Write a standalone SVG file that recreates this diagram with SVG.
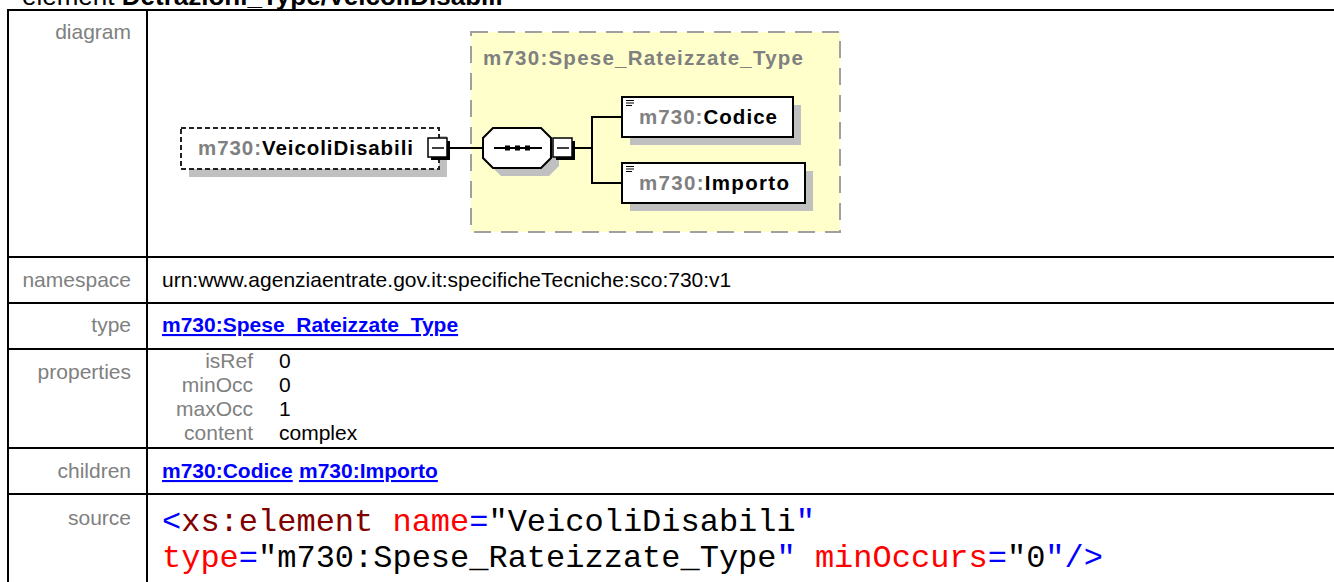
<svg xmlns="http://www.w3.org/2000/svg" width="1334" height="582" viewBox="0 0 1334 582">
<style>
.lbl{font-family:"Liberation Sans",Arial,sans-serif;font-size:21px;fill:#808080;text-anchor:end}
.val{font-family:"Liberation Sans",Arial,sans-serif;font-size:21px;fill:#000}
.lnk{font-family:"Liberation Sans",Arial,sans-serif;font-size:21px;font-weight:bold;fill:#0000FF;text-decoration:underline}
.grid{stroke:#000;stroke-width:2;fill:none}
.nm{font-family:"Liberation Sans",Arial,sans-serif;font-size:20.5px;font-weight:bold;fill:#000}
.pfx{fill:#808080}
.box{fill:#fff;stroke:#000;stroke-width:2}
.shadow{fill:#c0c0c0}
.conn{stroke:#000;stroke-width:2;fill:none}
.src{font-family:"Liberation Mono","Courier New",monospace;font-size:32px}
.tag{fill:#0000FF}.en{fill:#800000}.at{fill:#FF0000}.tx{fill:#000}
</style>
<rect width="1334" height="582" fill="#fff"/>
<text x="22" y="5" font-family="Liberation Sans,Arial,sans-serif" font-size="26" fill="#000">element <tspan font-weight="bold">Detrazioni_Type/VeicoliDisabili</tspan></text>
<g id="table">
<line class="grid" x1="7" y1="10" x2="1334" y2="10"/>
<line class="grid" x1="8" y1="9" x2="8" y2="582"/>
<line class="grid" x1="147" y1="9" x2="147" y2="582"/>
<line class="grid" x1="7" y1="257" x2="1334" y2="257"/>
<line class="grid" x1="7" y1="303" x2="1334" y2="303"/>
<line class="grid" x1="7" y1="349" x2="1334" y2="349"/>
<line class="grid" x1="7" y1="448" x2="1334" y2="448"/>
<line class="grid" x1="7" y1="494" x2="1334" y2="494"/>
<text class="lbl" x="131" y="39">diagram</text>
<text class="lbl" x="131" y="287">namespace</text>
<text class="lbl" x="131" y="332">type</text>
<text class="lbl" x="131" y="379">properties</text>
<text class="lbl" x="131" y="478">children</text>
<text class="lbl" x="131" y="525">source</text>
<text class="val" x="162" y="287">urn:www.agenziaentrate.gov.it:specificheTecniche:sco:730:v1</text>
<text class="lnk" x="162" y="332">m730:Spese_Rateizzate_Type</text>
<text class="lbl" x="253" y="368">isRef</text>
<text class="lbl" x="253" y="392">minOcc</text>
<text class="lbl" x="253" y="416">maxOcc</text>
<text class="lbl" x="253" y="440">content</text>
<text class="val" x="279" y="368">0</text>
<text class="val" x="279" y="392">0</text>
<text class="val" x="279" y="416">1</text>
<text class="val" x="279" y="440">complex</text>
<text class="lnk" x="162" y="478">m730:Codice</text>
<text class="lnk" x="299" y="478">m730:Importo</text>
<text class="src" x="162" y="531"><tspan class="tag">&lt;</tspan><tspan class="en">xs:element</tspan><tspan class="tx"> </tspan><tspan class="at">name</tspan><tspan class="tag">=</tspan><tspan class="tx">"VeicoliDisabili</tspan><tspan class="tag">"</tspan></text>
<text class="src" x="162" y="567"><tspan class="at">type</tspan><tspan class="tag">=</tspan><tspan class="tx">"m730:Spese_Rateizzate_Type</tspan><tspan class="tag">"</tspan><tspan class="tx"> </tspan><tspan class="at">minOccurs</tspan><tspan class="tag">=</tspan><tspan class="tx">"0</tspan><tspan class="tag">"/&gt;</tspan></text>
</g>
<g id="complexType">
<rect x="471" y="32" width="369" height="200" fill="#FFFFCC" stroke="#A0A0A0" stroke-width="2" stroke-dasharray="17,10"/>
<text class="nm pfx" x="483" y="65" textLength="320" lengthAdjust="spacing">m730:Spese_Rateizzate_Type</text>
</g>
<g id="connectors">
<line class="conn" x1="450" y1="148" x2="484" y2="148"/>
<line class="conn" x1="574" y1="148" x2="592" y2="148"/>
<line class="conn" x1="592" y1="116" x2="592" y2="184"/>
<line class="conn" x1="591" y1="117" x2="622" y2="117"/>
<line class="conn" x1="591" y1="183" x2="622" y2="183"/>
</g>
<g id="VeicoliDisabili">
<rect class="shadow" x="189" y="136" width="258" height="41"/>
<rect x="181" y="128" width="258" height="41" fill="#fff" stroke="#222" stroke-width="2" stroke-dasharray="5,3"/>
<text class="nm" x="198" y="155" textLength="215" lengthAdjust="spacing"><tspan class="pfx">m730:</tspan>VeicoliDisabili</text>
<rect x="431" y="141" width="19" height="19" fill="#000"/>
<rect x="428" y="138" width="19" height="19" fill="#fff" stroke="#000" stroke-width="1.5"/>
<line x1="432" y1="148" x2="444" y2="148" stroke="#000" stroke-width="1.5"/>
</g>
<g id="sequence">
<polygon class="shadow" points="501,136 549,136 559,146 559,166 549,176 501,176 491,166 491,146"/>
<polygon points="493,128 541,128 551,138 551,158 541,168 493,168 483,158 483,138" fill="#fff" stroke="#000" stroke-width="2"/>
<line x1="494" y1="148" x2="542" y2="148" stroke="#000" stroke-width="2"/>
<rect x="505" y="145.5" width="5" height="5" fill="#000"/>
<rect x="515" y="145.5" width="5" height="5" fill="#000"/>
<rect x="525" y="145.5" width="5" height="5" fill="#000"/>
<rect x="556" y="141" width="19" height="19" fill="#000"/>
<rect x="553" y="138" width="19" height="19" fill="#fff" stroke="#000" stroke-width="1.5"/>
<line x1="557" y1="148" x2="569" y2="148" stroke="#000" stroke-width="1.5"/>
</g>
<g id="Codice">
<rect class="shadow" x="630" y="105" width="171" height="40"/>
<rect class="box" x="622" y="97" width="171" height="40"/>
<path d="M626 100.5H634M626 103H634M626 105.5H632" stroke="#000" stroke-width="1.2"/>
<text class="nm" x="639" y="124" textLength="138" lengthAdjust="spacing"><tspan class="pfx">m730:</tspan>Codice</text>
</g>
<g id="Importo">
<rect class="shadow" x="630" y="171" width="183" height="40"/>
<rect class="box" x="622" y="163" width="183" height="40"/>
<path d="M626 166.5H634M626 169H634M626 171.5H632" stroke="#000" stroke-width="1.2"/>
<text class="nm" x="639" y="190" textLength="150" lengthAdjust="spacing"><tspan class="pfx">m730:</tspan>Importo</text>
</g>
</svg>
